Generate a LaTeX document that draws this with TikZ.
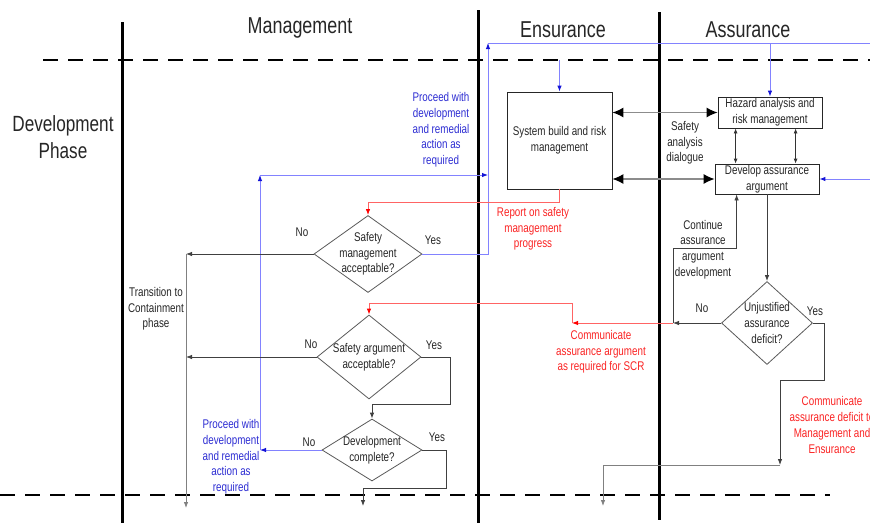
\documentclass[tikz,border=0pt]{standalone}
\usepackage{fontspec}
\setmainfont{Liberation Sans}[FakeStretch=0.78]
\usetikzlibrary{arrows.meta,positioning,shapes.geometric}
\definecolor{linkblue}{RGB}{130,130,255}
\definecolor{tipblue}{RGB}{20,20,215}
\definecolor{textblue}{RGB}{45,45,210}
\definecolor{linkred}{RGB}{255,100,100}
\definecolor{textred}{RGB}{250,35,35}

\begin{document}
\begin{tikzpicture}[
    x=1pt, y=-1pt,
    every node/.style={font=\fontsize{12.6}{15.7}\selectfont, text=black!85, inner sep=0pt},
    lane/.style={font=\fontsize{23}{27}\selectfont},
    note/.style={align=center},
    box/.style={draw=black!85, line width=0.8pt, align=center},
    decision/.style={diamond, draw=black!65, line width=0.8pt},
    swim/.style={line width=3pt},
    phaseline/.style={line width=2.6pt, dash pattern=on 15pt off 10pt},
    flow/.style={draw=black!75, line width=0.8pt, -{Latex[length=6pt,width=4.5pt]}},
    blueflow/.style={draw=linkblue, line width=0.9pt, -{Latex[length=6pt,width=4.5pt,color=tipblue]}},
    blueline/.style={draw=linkblue, line width=0.9pt},
    redflow/.style={draw=linkred, line width=0.9pt, -{Latex[length=6pt,width=4.5pt,color=red]}},
    dialog/.style={draw=black!45, line width=1.2pt, {Latex[length=11pt,width=10pt,color=black]}-{Latex[length=11pt,width=10pt,color=black]}},
    twoway/.style={draw=black!80, line width=0.8pt, {Latex[length=5pt,width=4pt]}-{Latex[length=5pt,width=4pt]}}
]
\useasboundingbox (0,0) rectangle (870,523);
\node[lane] (mgmt) at (300,28) {Management};
\node[lane] (ensure) at (563,30) {Ensurance};
\node[lane] (assure) at (748,30) {Assurance};
\node[lane, align=center, font=\fontsize{22}{27}\selectfont] (phase) at (63,137) {Development\\Phase};

\coordinate (topL) at (43,60);
\coordinate (topR) at (870,60);
\coordinate (botL) at (0,495);
\coordinate (botR) at (830,495);
\draw[phaseline] (topL) -- (topR);
\draw[phaseline] (botL) -- (botR);
\draw[swim] (122,22) -- (122,523);
\draw[swim] (478,10) -- (478,523);
\draw[swim] (659,12) -- (659,520);

\node[box, minimum width=105pt, minimum height=97pt] (sysbuild) at (559.5,140.5) {System build and risk\\management};
\node[box, minimum width=104pt, minimum height=31pt] (hazard) at (770,112.5) {Hazard analysis and\\risk management};
\node[box, minimum width=104pt, minimum height=30pt] (develop) at (767,179) {Develop assurance\\argument};

\node[decision, minimum width=108pt, minimum height=77pt, label={[note]center:{Safety\\management\\acceptable?}}] (smok) at (368,254) {};
\node[decision, minimum width=104pt, minimum height=84pt, label={[note]center:{Safety argument\\acceptable?}}] (saok) at (369,357) {};
\node[decision, minimum width=100pt, minimum height=62pt, label={[note]center:{Development\\complete?}}] (devok) at (372,450) {};
\node[decision, minimum width=91pt, minimum height=83pt, label={[note]center:{Unjustified\\assurance\\deficit?}}] (deficit) at (767,323) {};

\node (smno) at (302,232) {No};
\node (smyes) at (433,240) {Yes};
\node (sano) at (311,344) {No};
\node (sayes) at (434,345) {Yes};
\node (dvno) at (309,442) {No};
\node (dvyes) at (437,437) {Yes};
\node (dfno) at (702,308) {No};
\node (dfyes) at (815,311) {Yes};

\node[note, text=textblue] (procnote) at (441,130) {Proceed with\\development\\and remedial\\action as\\required};
\node[note, text=textblue] (procnote2) at (231,457) {Proceed with\\development\\and remedial\\action as\\required};
\node[note, text=textred] (reportnote) at (533,229) {Report on safety\\management\\progress};
\node[note, text=textred] (commnote) at (601,352) {Communicate\\assurance argument\\as required for SCR};
\node[note, text=textred] (deficitnote) at (832,425) {Communicate\\assurance deficit to\\Management and\\Ensurance};
\node[note] (contnote) at (703,249.5) {Continue\\assurance\\argument\\development};
\node[note] (dialognote) at (685,143) {Safety\\analysis\\dialogue};
\node[note] (transnote) at (156,309) {Transition to\\Containment\\phase};

\coordinate (upturn) at (488,43);
\coordinate (feedR) at (870,43);
\coordinate (feedD) at (870,179);
\coordinate (procup) at (260,175);
\coordinate (procR) at (488,175);
\coordinate (report) at (0,202);
\coordinate (comm) at (572,303);
\coordinate (cont) at (673,248);
\coordinate (trans) at (186,254);
\coordinate (transend) at (186,508);
\coordinate (saturn) at (450,404);
\coordinate (dvturn) at (446,488);
\coordinate (exitM) at (363,506);
\coordinate (dfturn) at (824,380);
\coordinate (dfdown) at (780,465);
\coordinate (exitE) at (603,506);
\coordinate (devin) at ([xshift=22pt]develop.south west);
\coordinate (hd1) at ([xshift=18pt]hazard.south west);
\coordinate (hd2) at ([xshift=78pt]hazard.south west);

\draw[blueflow] (smok.east) -| (upturn);
\draw[blueline] (upturn) -- (feedR);
\draw[blueflow] (hazard.north |- feedR) -- (hazard.north);
\draw[blueflow] (sysbuild.north |- topL) -- (sysbuild.north);
\draw[blueflow] (feedD) -- (develop.east);
\draw[blueflow] (devok.west) -- (devok.west -| procup);
\draw[blueflow] (devok.west -| procup) -- (procup);
\draw[blueflow] (procup) -- (procR);

\draw[redflow] (sysbuild.south) |- (report -| smok.north) -- (smok.north);
\draw[redflow] (deficit.west -| cont) -- (deficit.west -| comm);
\draw[redflow] (deficit.west -| comm) -- (comm) -| (saok.north);

\draw[dialog] (sysbuild.east |- hazard.west) -- (hazard.west);
\draw[dialog] (sysbuild.east |- develop.west) -- (develop.west);
\draw[twoway] (hd1) -- (hd1 |- develop.north);
\draw[twoway] (hd2) -- (hd2 |- develop.north);

\draw[flow] (smok.west) -- (trans);
\draw[flow] (saok.west) -- (saok.west -| trans);
\draw[flow, draw=black!50] (trans) -- (transend);
\draw[flow] (saok.east) -| (saturn) -| (devok.north);
\draw[flow] (devok.east) -| (dvturn) -| (exitM);
\draw[flow] (develop.south) -- (deficit.north);
\draw[flow] (deficit.west) -- (deficit.west -| cont);
\draw[flow] (deficit.west -| cont) -- (cont) -| (devin);
\draw[flow] (deficit.east) -| (dfturn) -| (dfdown);
\draw[flow, draw=black!50] (dfdown) -| (exitE);
\end{tikzpicture}
\end{document}
